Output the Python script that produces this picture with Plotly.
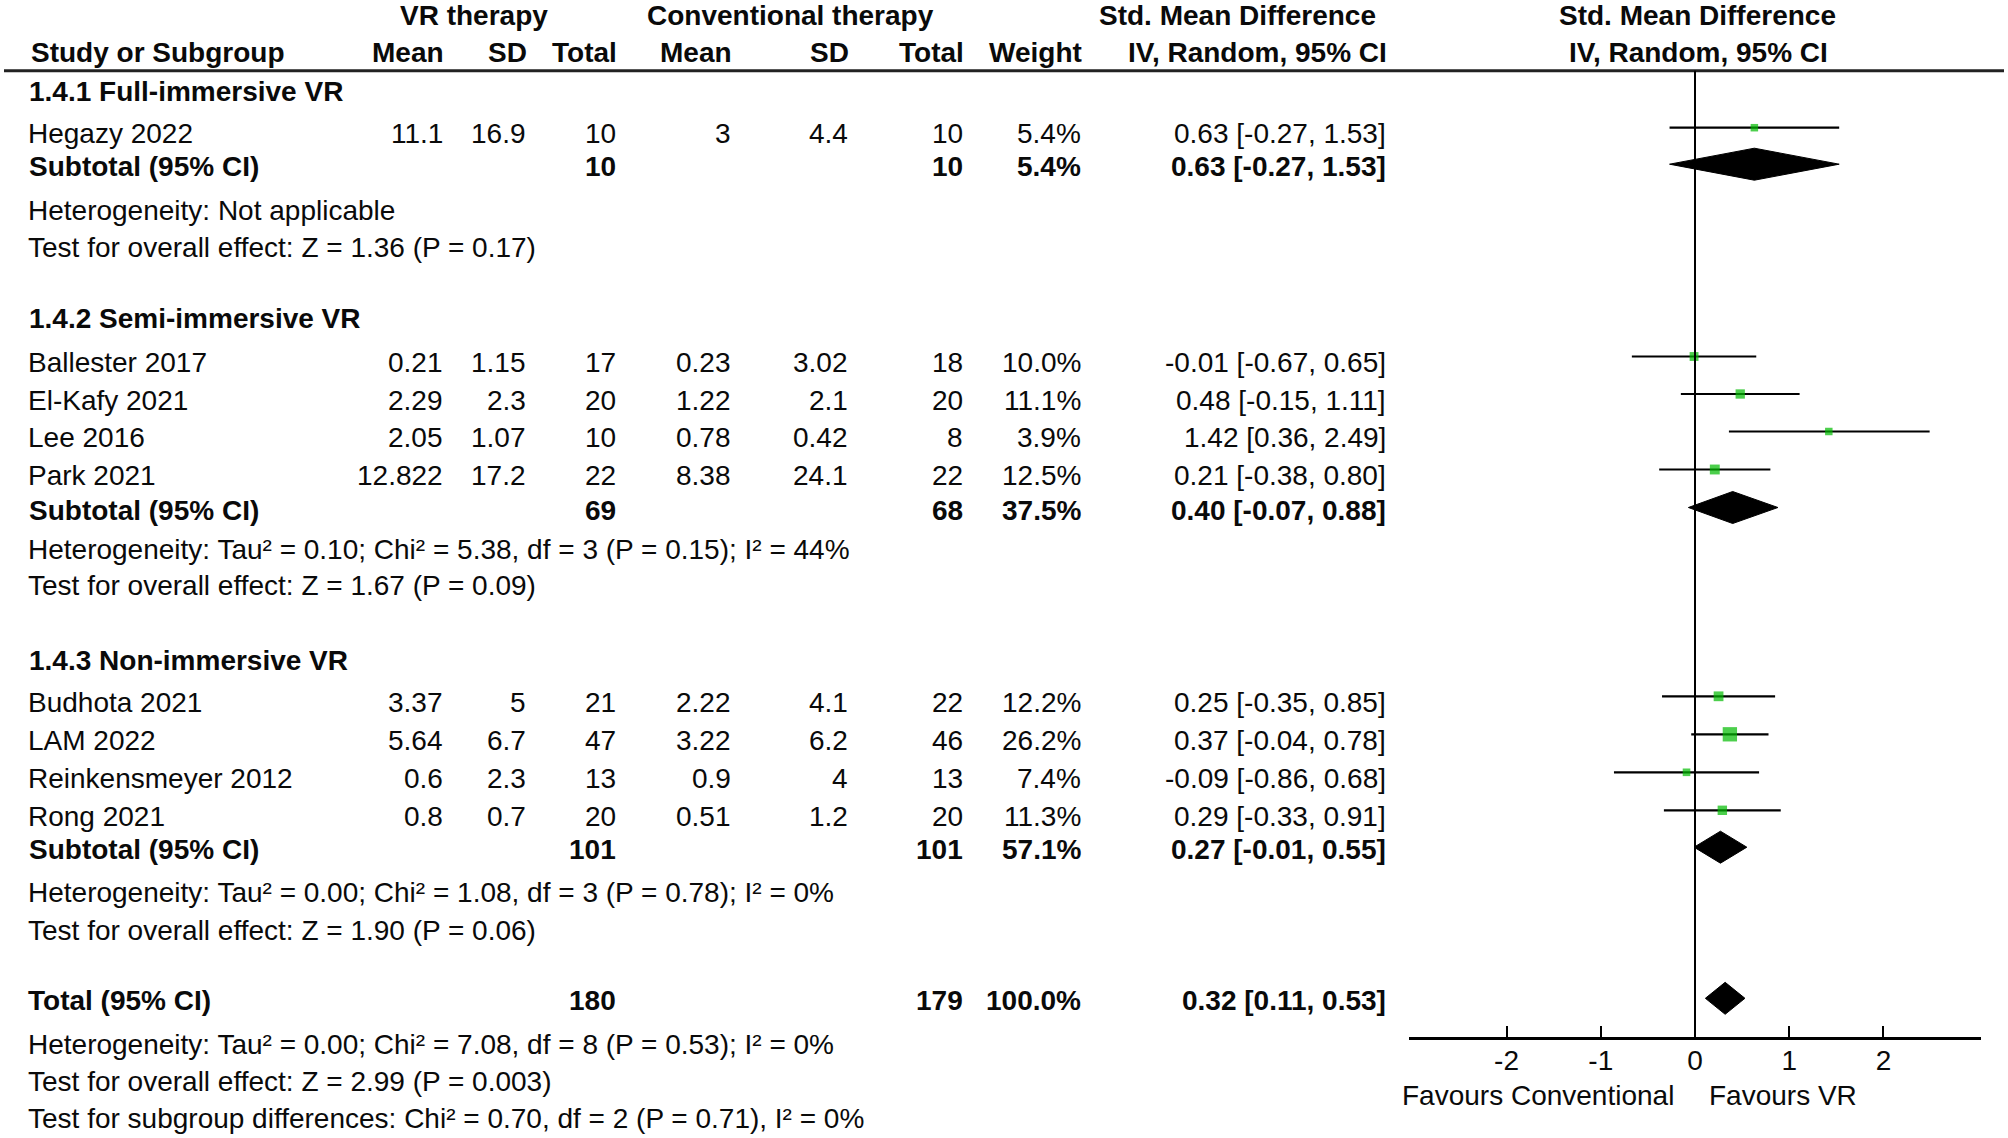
import math
import plotly.graph_objects as go

# study level data
studies = ["Hegazy 2022", "Ballester 2017", "El-Kafy 2021", "Lee 2016", "Park 2021",
           "Budhota 2021", "LAM 2022", "Reinkensmeyer 2012", "Rong 2021"]
study_group = [0, 1, 1, 1, 1, 2, 2, 2, 2]
vr_mean = [11.1, 0.21, 2.29, 2.05, 12.822, 3.37, 5.64, 0.6, 0.8]
vr_sd = [16.9, 1.15, 2.3, 1.07, 17.2, 5, 6.7, 2.3, 0.7]
vr_total = [10, 17, 20, 10, 22, 21, 47, 13, 20]
conv_mean = [3, 0.23, 1.22, 0.78, 8.38, 2.22, 3.22, 0.9, 0.51]
conv_sd = [4.4, 3.02, 2.1, 0.42, 24.1, 4.1, 6.2, 4, 1.2]
conv_total = [10, 18, 20, 8, 22, 22, 46, 13, 20]
weight = [5.4, 10.0, 11.1, 3.9, 12.5, 12.2, 26.2, 7.4, 11.3]
smd = [0.63, -0.01, 0.48, 1.42, 0.21, 0.25, 0.37, -0.09, 0.29]
ci_lo = [-0.27, -0.67, -0.15, 0.36, -0.38, -0.35, -0.04, -0.86, -0.33]
ci_hi = [1.53, 0.65, 1.11, 2.49, 0.80, 0.85, 0.78, 0.68, 0.91]

# subgroup data
groups = ["1.4.1 Full-immersive VR", "1.4.2 Semi-immersive VR", "1.4.3 Non-immersive VR"]
sub_vr_total = [10, 69, 101]
sub_conv_total = [10, 68, 101]
sub_weight = [5.4, 37.5, 57.1]
sub_smd = [0.63, 0.40, 0.27]
sub_lo = [-0.27, -0.07, -0.01]
sub_hi = [1.53, 0.88, 0.55]
sub_het = ["Heterogeneity: Not applicable",
           "Heterogeneity: Tau\u00b2 = 0.10; Chi\u00b2 = 5.38, df = 3 (P = 0.15); I\u00b2 = 44%",
           "Heterogeneity: Tau\u00b2 = 0.00; Chi\u00b2 = 1.08, df = 3 (P = 0.78); I\u00b2 = 0%"]
sub_test = ["Test for overall effect: Z = 1.36 (P = 0.17)",
            "Test for overall effect: Z = 1.67 (P = 0.09)",
            "Test for overall effect: Z = 1.90 (P = 0.06)"]

# overall
total_vr = 180
total_conv = 179
total_weight = 100.0
total_smd = 0.32
total_lo = 0.11
total_hi = 0.53
total_notes = ["Heterogeneity: Tau\u00b2 = 0.00; Chi\u00b2 = 7.08, df = 8 (P = 0.53); I\u00b2 = 0%",
               "Test for overall effect: Z = 2.99 (P = 0.003)",
               "Test for subgroup differences: Chi\u00b2 = 0.70, df = 2 (P = 0.71), I\u00b2 = 0%"]

axis_ticks = [-2, -1, 0, 1, 2]

# ---- layout (rows in pixels from the top) ----
W, H = 2008, 1138
head_y = [91.7, 318.3, 660.2]
study_y = [133.7, 362.5, 400, 437.5, 475.5, 702.3, 740.3, 778.3, 816.3]
sub_y = [166.7, 510, 849.7]
het_y = [210, 549, 892.5]
test_y = [247.7, 585.7, 930]
total_y = 1000.8
total_note_y = [1044, 1081.7, 1118]
axis_y = 1038

FONT = "Liberation Sans, Arial, sans-serif"
FS = 28
INK = "#0a0a0a"
LEFT = 26

col_x = {"vr_mean": 445, "vr_sd": 528, "vr_total": 618, "conv_mean": 733,
         "conv_sd": 850, "conv_total": 965, "weight": 1083, "ci": 1388}


def px(x):
    return x / W


def fmt(v):
    return f"{v:g}"


def ci_text(e, lo, hi):
    return f"{e:.2f} [{lo:.2f}, {hi:.2f}]"


annots = []


def txt(x, y, s, anchor="left", bold=False):
    annots.append(dict(x=px(x), y=y, xref="paper", yref="y", text=s, showarrow=False,
                       xanchor=anchor, yanchor="middle",
                       font=dict(family=FONT, size=FS, color=INK,
                                 weight="bold" if bold else "normal")))


# headers
txt(474, 15, "VR therapy", "center", True)
txt(790, 15, "Conventional therapy", "center", True)
txt(1237, 15, "Std. Mean Difference", "center", True)
txt(1697, 15, "Std. Mean Difference", "center", True)
txt(29, 52.5, "Study or Subgroup", "left", True)
for key, lab in [("vr_mean", "Mean"), ("vr_sd", "SD"), ("vr_total", "Total"),
                 ("conv_mean", "Mean"), ("conv_sd", "SD"), ("conv_total", "Total"),
                 ("weight", "Weight"), ("ci", "IV, Random, 95% CI")]:
    txt(col_x[key] + 1, 52.5, lab, "right", True)
txt(1698, 52.5, "IV, Random, 95% CI", "center", True)

# study rows
for i, name in enumerate(studies):
    y = study_y[i]
    txt(LEFT, y, name)
    txt(col_x["vr_mean"], y, fmt(vr_mean[i]), "right")
    txt(col_x["vr_sd"], y, fmt(vr_sd[i]), "right")
    txt(col_x["vr_total"], y, str(vr_total[i]), "right")
    txt(col_x["conv_mean"], y, fmt(conv_mean[i]), "right")
    txt(col_x["conv_sd"], y, fmt(conv_sd[i]), "right")
    txt(col_x["conv_total"], y, str(conv_total[i]), "right")
    txt(col_x["weight"], y, f"{weight[i]:.1f}%", "right")
    txt(col_x["ci"], y, ci_text(smd[i], ci_lo[i], ci_hi[i]), "right")

# subgroup rows
for g, gname in enumerate(groups):
    txt(LEFT + 1, head_y[g], gname, "left", True)
    y = sub_y[g]
    txt(LEFT + 1, y, "Subtotal (95% CI)", "left", True)
    txt(col_x["vr_total"], y, str(sub_vr_total[g]), "right", True)
    txt(col_x["conv_total"], y, str(sub_conv_total[g]), "right", True)
    txt(col_x["weight"], y, f"{sub_weight[g]:.1f}%", "right", True)
    txt(col_x["ci"], y, ci_text(sub_smd[g], sub_lo[g], sub_hi[g]), "right", True)
    txt(LEFT, het_y[g], sub_het[g])
    txt(LEFT, test_y[g], sub_test[g])

# total
txt(LEFT, total_y, "Total (95% CI)", "left", True)
txt(col_x["vr_total"], total_y, str(total_vr), "right", True)
txt(col_x["conv_total"], total_y, str(total_conv), "right", True)
txt(col_x["weight"], total_y, f"{total_weight:.1f}%", "right", True)
txt(col_x["ci"], total_y, ci_text(total_smd, total_lo, total_hi), "right", True)
for k, note in enumerate(total_notes):
    txt(LEFT, total_note_y[k], note)

txt(1676, 1095, "Favours Conventional", "right")
txt(1707, 1095, "Favours VR", "left")

fig = go.Figure()

# CI whiskers
lx, ly = [], []
for i in range(len(studies)):
    yy = study_y[i] - 6
    lx += [ci_lo[i], ci_hi[i], None]
    ly += [yy, yy, None]
fig.add_trace(go.Scatter(x=lx, y=ly, mode="lines", line=dict(color="black", width=2.2),
                         hoverinfo="skip", showlegend=False))

# weight squares
fig.add_trace(go.Scatter(x=smd, y=[v - 6 for v in study_y], mode="markers",
                         marker=dict(symbol="square", color="#00BB00",
                                     size=[max(7.5, 2.8 * math.sqrt(w)) for w in weight],
                                     line=dict(width=0)),
                         showlegend=False))

# pooled diamonds
dx, dy = [], []
for est, lo, hi, yc in zip(sub_smd + [total_smd], sub_lo + [total_lo],
                           sub_hi + [total_hi], sub_y + [total_y]):
    c = yc - 2.5
    dx += [lo, est, hi, est, lo, None]
    dy += [c, c - 16, c, c + 16, c, None]
fig.add_trace(go.Scatter(x=dx, y=dy, mode="lines", fill="toself", fillcolor="black",
                         line=dict(color="black", width=1), showlegend=False))

shapes = [
    dict(type="line", xref="paper", yref="y", x0=px(4), x1=px(2004), y0=70.7, y1=70.7,
         line=dict(color="#222222", width=3)),
    dict(type="line", xref="x", yref="y", x0=0, x1=0, y0=70.7, y1=axis_y,
         line=dict(color="black", width=2)),
]

fig.update_layout(
    width=W, height=H,
    margin=dict(l=0, r=0, t=0, b=0),
    paper_bgcolor="white", plot_bgcolor="white",
    showlegend=False,
    annotations=annots,
    shapes=shapes,
    xaxis=dict(domain=[px(1409), px(1981)], range=[-3.035, 3.035],
               anchor="free", position=1 - axis_y / H,
               showline=True, linecolor="black", linewidth=3,
               ticks="inside", ticklen=11, tickwidth=2, tickcolor="black",
               tickvals=axis_ticks, ticktext=[str(t) for t in axis_ticks],
               ticklabelstandoff=-4,
               tickfont=dict(family=FONT, size=FS, color=INK),
               showgrid=False, zeroline=False, fixedrange=True),
    yaxis=dict(domain=[0, 1], range=[H, 0], visible=False, fixedrange=True),
)

# drop the default page margin so the figure fills the window
fig.write_html("out.html", config={"displayModeBar": False},
               post_script="document.body.style.margin='0';document.body.style.overflow='hidden';")
